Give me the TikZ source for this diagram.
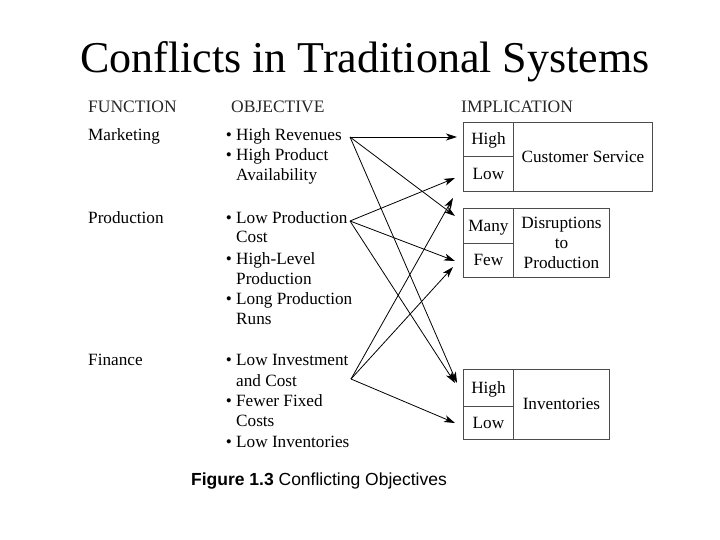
\documentclass[tikz,border=0pt]{standalone}
\usepackage{fontspec}
\setmainfont{Liberation Serif}
\newfontfamily\capfont{Liberation Sans}
\usetikzlibrary{arrows.meta}
\begin{document}
\begin{tikzpicture}[x=1pt,y=-1pt,
  txt/.style={anchor=base west,inner sep=0pt,font=\fontsize{17.2}{20}\selectfont},
  hdr/.style={anchor=base west,inner sep=0pt,font=\fontsize{17.5}{20}\selectfont,text=black!85},
  cell/.style={draw=black!70,line width=0.9pt,anchor=north west,inner sep=0pt,font=\fontsize{17.2}{20}\selectfont,align=center},
  one/.style={text height=12.5pt,text depth=1.5pt},
  arr/.style={-{Stealth[length=11pt,width=7pt,inset=3pt]},line width=0.8pt},
]
\useasboundingbox (0,0) rectangle (720,540);
\node[anchor=base,inner sep=0pt,font=\fontsize{44}{50}\selectfont] (title) at (365,73) {Conflicts in Traditional Systems};

% headers
\node[hdr] (hfun) at (88,113) {FUNCTION};
\node[hdr] (hobj) at (231,113) {OBJECTIVE};
\node[hdr] (himp) at (461,113) {IMPLICATION};

% functions
\node[txt] (fmkt) at (88,141) {Marketing};
\node[txt] (fprd) at (88,223) {Production};
\node[txt] (ffin) at (88,365) {Finance};

% objectives
\node[txt] (o1) at (236,141) {\llap{\textbullet\ }High Revenues};
\node[txt] (o2) at (236,161) {\llap{\textbullet\ }High Product};
\node[txt] (o2b) at (236,181) {Availability};
\node[txt] (o3) at (236,223) {\llap{\textbullet\ }Low Production};
\node[txt] (o3b) at (236,243) {Cost};
\node[txt] (o4) at (236,264) {\llap{\textbullet\ }High-Level};
\node[txt] (o4b) at (236,284) {Production};
\node[txt] (o5) at (236,304) {\llap{\textbullet\ }Long Production};
\node[txt] (o5b) at (236,324) {Runs};
\node[txt] (o6) at (236,365) {\llap{\textbullet\ }Low Investment};
\node[txt] (o6b) at (236,386) {and Cost};
\node[txt] (o7) at (236,406) {\llap{\textbullet\ }Fewer Fixed};
\node[txt] (o7b) at (236,426) {Costs};
\node[txt] (o8) at (236,447) {\llap{\textbullet\ }Low Inventories};

% implication boxes
\node[cell,one,minimum width=50pt,minimum height=34pt] (csh) at (463,122) {High};
\node[cell,one,minimum width=50pt,minimum height=35pt] (csl) at (463,156) {Low};
\node[cell,one,minimum width=139pt,minimum height=69pt] (cs) at (513,122) {Customer Service};

\node[cell,one,minimum width=50pt,minimum height=35pt] (dm) at (463,208) {Many};
\node[cell,one,minimum width=50pt,minimum height=34pt] (df) at (463,243) {Few};
\node[cell,minimum width=96pt,minimum height=69pt] (dp) at (513,208) {Disruptions\\to\\Production};

\node[cell,one,minimum width=50pt,minimum height=37pt] (ih) at (463,369) {High};
\node[cell,one,minimum width=50pt,minimum height=33pt] (il) at (463,406) {Low};
\node[cell,one,minimum width=96pt,minimum height=70pt] (inv) at (513,369) {Inventories};

% connector end points
\coordinate (s1) at (350,137);
\coordinate (s2) at (350,221);
\coordinate (s3) at (351,379);
\coordinate (t1a) at (457,137);
\coordinate (t1b) at (455,216);
\coordinate (t1c) at (457,383);
\coordinate (t2a) at (455,178);
\coordinate (t2b) at (455,261);
\coordinate (t2c) at (455,383);
\coordinate (t3a) at (453,198);
\coordinate (t3b) at (453,267);
\coordinate (t3c) at (455,423);

\draw[arr] (s1) -- (t1a);
\draw[arr] (s1) -- (t1b);
\draw[arr] (s1) -- (t1c);
\draw[arr] (s2) -- (t2a);
\draw[arr] (s2) -- (t2b);
\draw[arr] (s2) -- (t2c);
\draw[arr] (s3) -- (t3a);
\draw[arr] (s3) -- (t3b);
\draw[arr] (s3) -- (t3c);

% caption
\node[anchor=base,inner sep=0pt,font=\capfont\fontsize{17.5}{20}\selectfont] (cap) at (319,485) {\textbf{Figure 1.3} Conflicting Objectives};
\end{tikzpicture}
\end{document}
